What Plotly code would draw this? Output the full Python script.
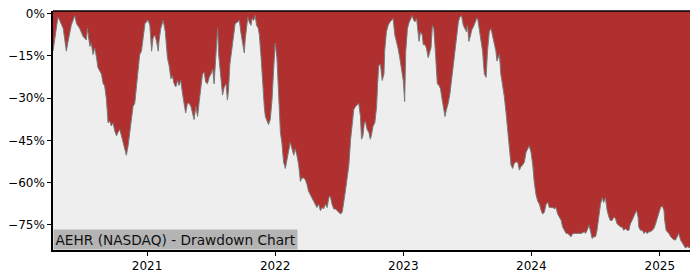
import plotly.graph_objects as go

dates = [
    "2020-04-08", "2020-04-13", "2020-04-18", "2020-04-22", "2020-04-27", "2020-05-07", "2020-05-11",
    "2020-05-16", "2020-05-21", "2020-05-30", "2020-06-09", "2020-06-14", "2020-06-23", "2020-07-03",
    "2020-07-12", "2020-07-15", "2020-07-22", "2020-07-26", "2020-07-31", "2020-08-05", "2020-08-10",
    "2020-08-14", "2020-08-24", "2020-08-29", "2020-09-02", "2020-09-07", "2020-09-12", "2020-09-17",
    "2020-09-21", "2020-09-26", "2020-10-01", "2020-10-06", "2020-10-10", "2020-10-15", "2020-10-20",
    "2020-10-25", "2020-10-30", "2020-11-03", "2020-11-08", "2020-11-13", "2020-11-18", "2020-11-22",
    "2020-11-27", "2020-12-02", "2020-12-07", "2020-12-11", "2020-12-16", "2020-12-21", "2020-12-26",
    "2020-12-30", "2021-01-04", "2021-01-09", "2021-01-14", "2021-01-18", "2021-01-23", "2021-01-28",
    "2021-02-02",
    "2021-02-04", "2021-02-09", "2021-02-16", "2021-02-22", "2021-02-25", "2021-02-28", "2021-03-05",
    "2021-03-10", "2021-03-14", "2021-03-19", "2021-03-24", "2021-03-29", "2021-04-02", "2021-04-07",
    "2021-04-12", "2021-04-17", "2021-04-21", "2021-04-26", "2021-05-01", "2021-05-06", "2021-05-10",
    "2021-05-15", "2021-05-20", "2021-05-25", "2021-05-29", "2021-06-03", "2021-06-08", "2021-06-13",
    "2021-06-17", "2021-06-22", "2021-06-27", "2021-07-02", "2021-07-07", "2021-07-11", "2021-07-16",
    "2021-07-21", "2021-07-24", "2021-07-28", "2021-08-01", "2021-08-04", "2021-08-09", "2021-08-14",
    "2021-08-18", "2021-08-21", "2021-08-25", "2021-08-31", "2021-09-04", "2021-09-09", "2021-09-16",
    "2021-09-21", "2021-09-25", "2021-09-30", "2021-10-05", "2021-10-08", "2021-10-12", "2021-10-15",
    "2021-10-19", "2021-10-24", "2021-10-27", "2021-11-01", "2021-11-05", "2021-11-09", "2021-11-14",
    "2021-11-17", "2021-11-22", "2021-11-26", "2021-12-01",
    "2021-12-04", "2021-12-09", "2021-12-13", "2021-12-18", "2021-12-23", "2021-12-28", "2022-01-01",
    "2022-01-06", "2022-01-11", "2022-01-16", "2022-01-20", "2022-01-25", "2022-01-30", "2022-02-04",
    "2022-02-08", "2022-02-13", "2022-02-18", "2022-02-23", "2022-02-27", "2022-03-04", "2022-03-09",
    "2022-03-14", "2022-03-18", "2022-03-23", "2022-03-28", "2022-04-02", "2022-04-06", "2022-04-11",
    "2022-04-16", "2022-04-21", "2022-04-25", "2022-04-30", "2022-05-05", "2022-05-10", "2022-05-15",
    "2022-05-19", "2022-05-24", "2022-05-29", "2022-06-03", "2022-06-07", "2022-06-12", "2022-06-17",
    "2022-06-22", "2022-06-26", "2022-07-01", "2022-07-06", "2022-07-11", "2022-07-15", "2022-07-20",
    "2022-07-25", "2022-07-30", "2022-08-04", "2022-08-08", "2022-08-13", "2022-08-18", "2022-08-22",
    "2022-08-27", "2022-09-01", "2022-09-04", "2022-09-08", "2022-09-12", "2022-09-15", "2022-09-20",
    "2022-09-25", "2022-09-29",
    "2022-10-02", "2022-10-07", "2022-10-12", "2022-10-17", "2022-10-20", "2022-10-23", "2022-10-28",
    "2022-11-02", "2022-11-07", "2022-11-09", "2022-11-14", "2022-11-19", "2022-11-24", "2022-11-28",
    "2022-12-03", "2022-12-08", "2022-12-13", "2022-12-17", "2022-12-22", "2022-12-27", "2023-01-01",
    "2023-01-05", "2023-01-08", "2023-01-13", "2023-01-18", "2023-01-23", "2023-01-26", "2023-01-31",
    "2023-02-03", "2023-02-08", "2023-02-13", "2023-02-15", "2023-02-19", "2023-02-24", "2023-02-27",
    "2023-03-04", "2023-03-08", "2023-03-13", "2023-03-18", "2023-03-21", "2023-03-25", "2023-03-29",
    "2023-04-03", "2023-04-08", "2023-04-13", "2023-04-17", "2023-04-22", "2023-04-27", "2023-04-30",
    "2023-05-04", "2023-05-09", "2023-05-14", "2023-05-19", "2023-05-23", "2023-05-28", "2023-06-02",
    "2023-06-07", "2023-06-11", "2023-06-16", "2023-06-21", "2023-06-26", "2023-06-30", "2023-07-03",
    "2023-07-07", "2023-07-12", "2023-07-15", "2023-07-20", "2023-07-24", "2023-07-29",
    "2023-08-01", "2023-08-06", "2023-08-10", "2023-08-15", "2023-08-20", "2023-08-25", "2023-08-29",
    "2023-09-03", "2023-09-08", "2023-09-12", "2023-09-17", "2023-09-22", "2023-09-25", "2023-09-29",
    "2023-10-02", "2023-10-06", "2023-10-11", "2023-10-16", "2023-10-21", "2023-10-25", "2023-10-30",
    "2023-11-04", "2023-11-09", "2023-11-13", "2023-11-18", "2023-11-23", "2023-11-28", "2023-12-02",
    "2023-12-07", "2023-12-12", "2023-12-17", "2023-12-21", "2023-12-26", "2023-12-31", "2024-01-05",
    "2024-01-09", "2024-01-14", "2024-01-19", "2024-01-24", "2024-01-29", "2024-02-02", "2024-02-07",
    "2024-02-12", "2024-02-17", "2024-02-21", "2024-02-26", "2024-03-02", "2024-03-07", "2024-03-11",
    "2024-03-16", "2024-03-21", "2024-03-26", "2024-03-30", "2024-04-04", "2024-04-09", "2024-04-14",
    "2024-04-18", "2024-04-23", "2024-04-28", "2024-05-03", "2024-05-12", "2024-05-22", "2024-05-31",
    "2024-06-03", "2024-06-08", "2024-06-13", "2024-06-17", "2024-06-22", "2024-06-27", "2024-07-02",
    "2024-07-06", "2024-07-11", "2024-07-16", "2024-07-21", "2024-07-25", "2024-07-30", "2024-08-04",
    "2024-08-09", "2024-08-13", "2024-08-18", "2024-08-23", "2024-08-28", "2024-09-01", "2024-09-06",
    "2024-09-11", "2024-09-16", "2024-09-20", "2024-09-25", "2024-09-30", "2024-10-05", "2024-10-09",
    "2024-10-14", "2024-10-19", "2024-10-24", "2024-10-27", "2024-10-31", "2024-11-02", "2024-11-07",
    "2024-11-12", "2024-11-17", "2024-11-21", "2024-11-26", "2024-12-01", "2024-12-06", "2024-12-10",
    "2024-12-15", "2024-12-20", "2024-12-25", "2024-12-29", "2025-01-03", "2025-01-08", "2025-01-13",
    "2025-01-15", "2025-01-19", "2025-01-22", "2025-01-27", "2025-02-01", "2025-02-05", "2025-02-10",
    "2025-02-15", "2025-02-20", "2025-02-24", "2025-03-01", "2025-03-06", "2025-03-11", "2025-03-15",
    "2025-03-20", "2025-03-26", "2025-03-28",
]

drawdown = [
    -13.3, -8.7, -3.5, -1.2, -2.3, -5.2, -8.7,
    -13.3, -9.8, -4.1, -0.6, -3.5, -5.2, -8.1,
    -9.3, -5.2, -11.6, -10.4, -14.5, -12.2, -15.6,
    -19.1, -21.4, -24.9, -25.5, -30.1, -38.8, -38.2,
    -39.9, -38.8, -41.7, -43.4, -42.2, -41.1, -43.4,
    -45.7, -48.0, -50.3, -46.9, -41.1, -37.6, -33.0,
    -31.8, -26.0, -20.3, -14.5, -13.3, -7.5, -3.5,
    -2.9, -2.3, -4.1, -13.3, -8.7, -7.5, -9.8,
    -13.3,
    -9.8, -5.2, -2.3, -6.4, -11.0, -15.6, -18.5,
    -23.1, -22.0, -24.9, -26.0, -23.7, -25.5, -23.7,
    -28.4, -33.0, -35.3, -31.8, -31.8, -33.0, -35.3,
    -37.6, -33.0, -36.5, -31.8, -26.0, -21.4, -20.8,
    -24.3, -24.9, -22.6, -21.4, -19.7, -24.9, -13.3,
    -5.2, -14.5, -21.4, -24.9, -28.9, -26.0, -24.9,
    -30.7, -27.2, -17.9, -12.2, -7.5, -3.5, -2.9,
    -2.3, -6.4, -11.0, -13.9, -8.7, -4.1, -1.2,
    -2.9, -4.1, -1.7, -2.3, -0.6, -4.1, -5.2,
    -7.5, -15.6, -24.9, -33.0,
    -36.5, -38.2, -39.4, -37.6, -30.7, -19.1, -10.4,
    -15.6, -30.7, -42.2, -45.7, -52.7, -55.0, -51.5,
    -48.0, -45.7, -48.0, -50.3, -48.0, -50.3, -53.8,
    -59.6, -58.4, -58.4, -59.0, -60.8, -63.1, -64.2,
    -65.4, -66.6, -67.7, -68.9, -67.7, -70.0, -68.9,
    -69.4, -67.7, -68.9, -65.4, -64.8, -67.7, -69.4,
    -69.4, -70.0, -70.6, -71.2, -70.6, -67.7, -63.1,
    -58.4, -53.8, -44.6, -39.9, -34.1, -33.0, -32.4,
    -31.8, -36.5, -44.6, -43.4, -38.8, -38.2, -41.1,
    -42.2, -44.6,
    -43.4, -39.9, -38.8, -33.0, -24.9, -18.5, -17.9,
    -23.7, -21.4, -13.3, -6.4, -4.1, -2.9, -2.3,
    -1.7, -7.5, -9.8, -12.2, -15.6, -19.1, -23.7,
    -31.2, -13.3, -5.2, -2.9, -1.7, -0.6, -2.3,
    -2.9, -1.7, -6.4, -9.8, -6.4, -7.5, -11.0,
    -11.0, -12.2, -15.6, -13.3, -12.2, -4.1, -5.2,
    -14.5, -24.9, -25.5, -26.6, -30.7, -35.3, -36.5,
    -34.1, -31.8, -28.4, -22.6, -20.3, -12.2, -7.5,
    -2.9, -1.2, -0.6, -4.1, -5.2, -6.4, -4.1,
    -9.8, -7.5, -5.8, -4.6, -2.9, -1.7,
    -1.7, -6.4, -9.8, -13.3, -21.4, -22.6, -13.3,
    -6.4, -5.2, -7.5, -9.8, -13.3, -16.8, -15.6,
    -14.5, -21.4, -24.9, -29.5, -35.3, -41.1, -46.9,
    -53.8, -55.0, -53.2, -52.7, -52.7, -55.6, -54.4,
    -53.8, -52.7, -49.2, -48.0, -46.9, -49.2, -53.8,
    -59.6, -64.2, -66.6, -67.7, -70.0, -71.2, -70.6,
    -67.7, -67.1, -68.9, -68.9, -68.9, -69.4, -68.9,
    -71.2, -72.3, -73.5, -75.8, -77.0, -78.1, -78.1,
    -78.7, -79.3, -78.1, -78.1, -78.1, -78.1, -77.5,
    -78.1, -77.0, -75.2, -77.0, -79.9, -79.3, -79.3,
    -77.0, -72.3, -67.7, -65.4, -67.1, -65.4, -70.0,
    -72.3, -73.5, -73.5, -72.3, -72.9, -74.7, -75.2,
    -75.8, -75.8, -77.0, -76.4, -77.0, -77.0, -74.7,
    -73.5, -71.8, -70.6, -70.0, -72.3, -75.8, -77.0,
    -77.0, -78.1, -77.5, -78.1, -77.5, -77.5, -77.0,
    -76.4, -74.7, -72.3, -70.6, -68.9, -68.3, -70.0,
    -73.5, -77.0, -77.5, -78.1, -79.3, -79.9, -80.4,
    -80.4, -79.3, -78.1, -80.4, -81.6, -82.8, -83.3,
    -82.8, -83.3, -83.3,
]

y_ticks = [0, -15, -30, -45, -60, -75]
y_tick_text = ["0%", "\u221215%", "\u221230%", "\u221245%", "\u221260%", "\u221275%"]
x_ticks = ["2021-01-01", "2022-01-01", "2023-01-01", "2024-01-01", "2025-01-01"]
x_tick_text = ["2021", "2022", "2023", "2024", "2025"]
title_text = "AEHR (NASDAQ) - Drawdown Chart"

Y_TOP = 1.0
Y_BOTTOM = -84.0

fig = go.Figure()
fig.add_trace(go.Scatter(
    x=dates, y=[Y_TOP] * len(dates), mode="lines",
    line=dict(width=0, color="rgba(0,0,0,0)"), hoverinfo="skip", showlegend=False,
))
fig.add_trace(go.Scatter(
    x=dates, y=drawdown, mode="lines",
    line=dict(color="#7a7a7a", width=1),
    fill="tonexty", fillcolor="#b03030", showlegend=False,
))

fig.update_layout(
    width=700, height=280,
    margin=dict(l=53, r=10, t=7, b=28),
    paper_bgcolor="white",
    plot_bgcolor="#eeeeee",
    font=dict(family="DejaVu Sans", size=12, color="black"),
    showlegend=False,
    xaxis=dict(
        range=[dates[0], dates[-1]], type="date",
        tickvals=x_ticks, ticktext=x_tick_text,
        showgrid=False, zeroline=False,
        showline=True, linecolor="black", linewidth=1.5,
        ticks="outside", ticklen=4, tickcolor="black",
    ),
    yaxis=dict(
        range=[Y_BOTTOM, Y_TOP],
        tickvals=y_ticks, ticktext=y_tick_text,
        showgrid=False, zeroline=False,
        showline=True, linecolor="black", linewidth=1.5,
        ticks="outside", ticklen=4, tickcolor="black",
    ),
    shapes=[dict(type="line", xref="paper", yref="paper", x0=0, x1=1, y0=1, y1=1,
                 line=dict(color="black", width=1.5))],
    annotations=[dict(
        text=title_text, xref="paper", yref="paper", x=0, y=0,
        xanchor="left", yanchor="bottom", showarrow=False,
        font=dict(family="DejaVu Sans", size=13.7, color="#111111"),
        bgcolor="#b4b4b4", borderpad=1.5,
    )],
)

fig.write_html("out.html")
